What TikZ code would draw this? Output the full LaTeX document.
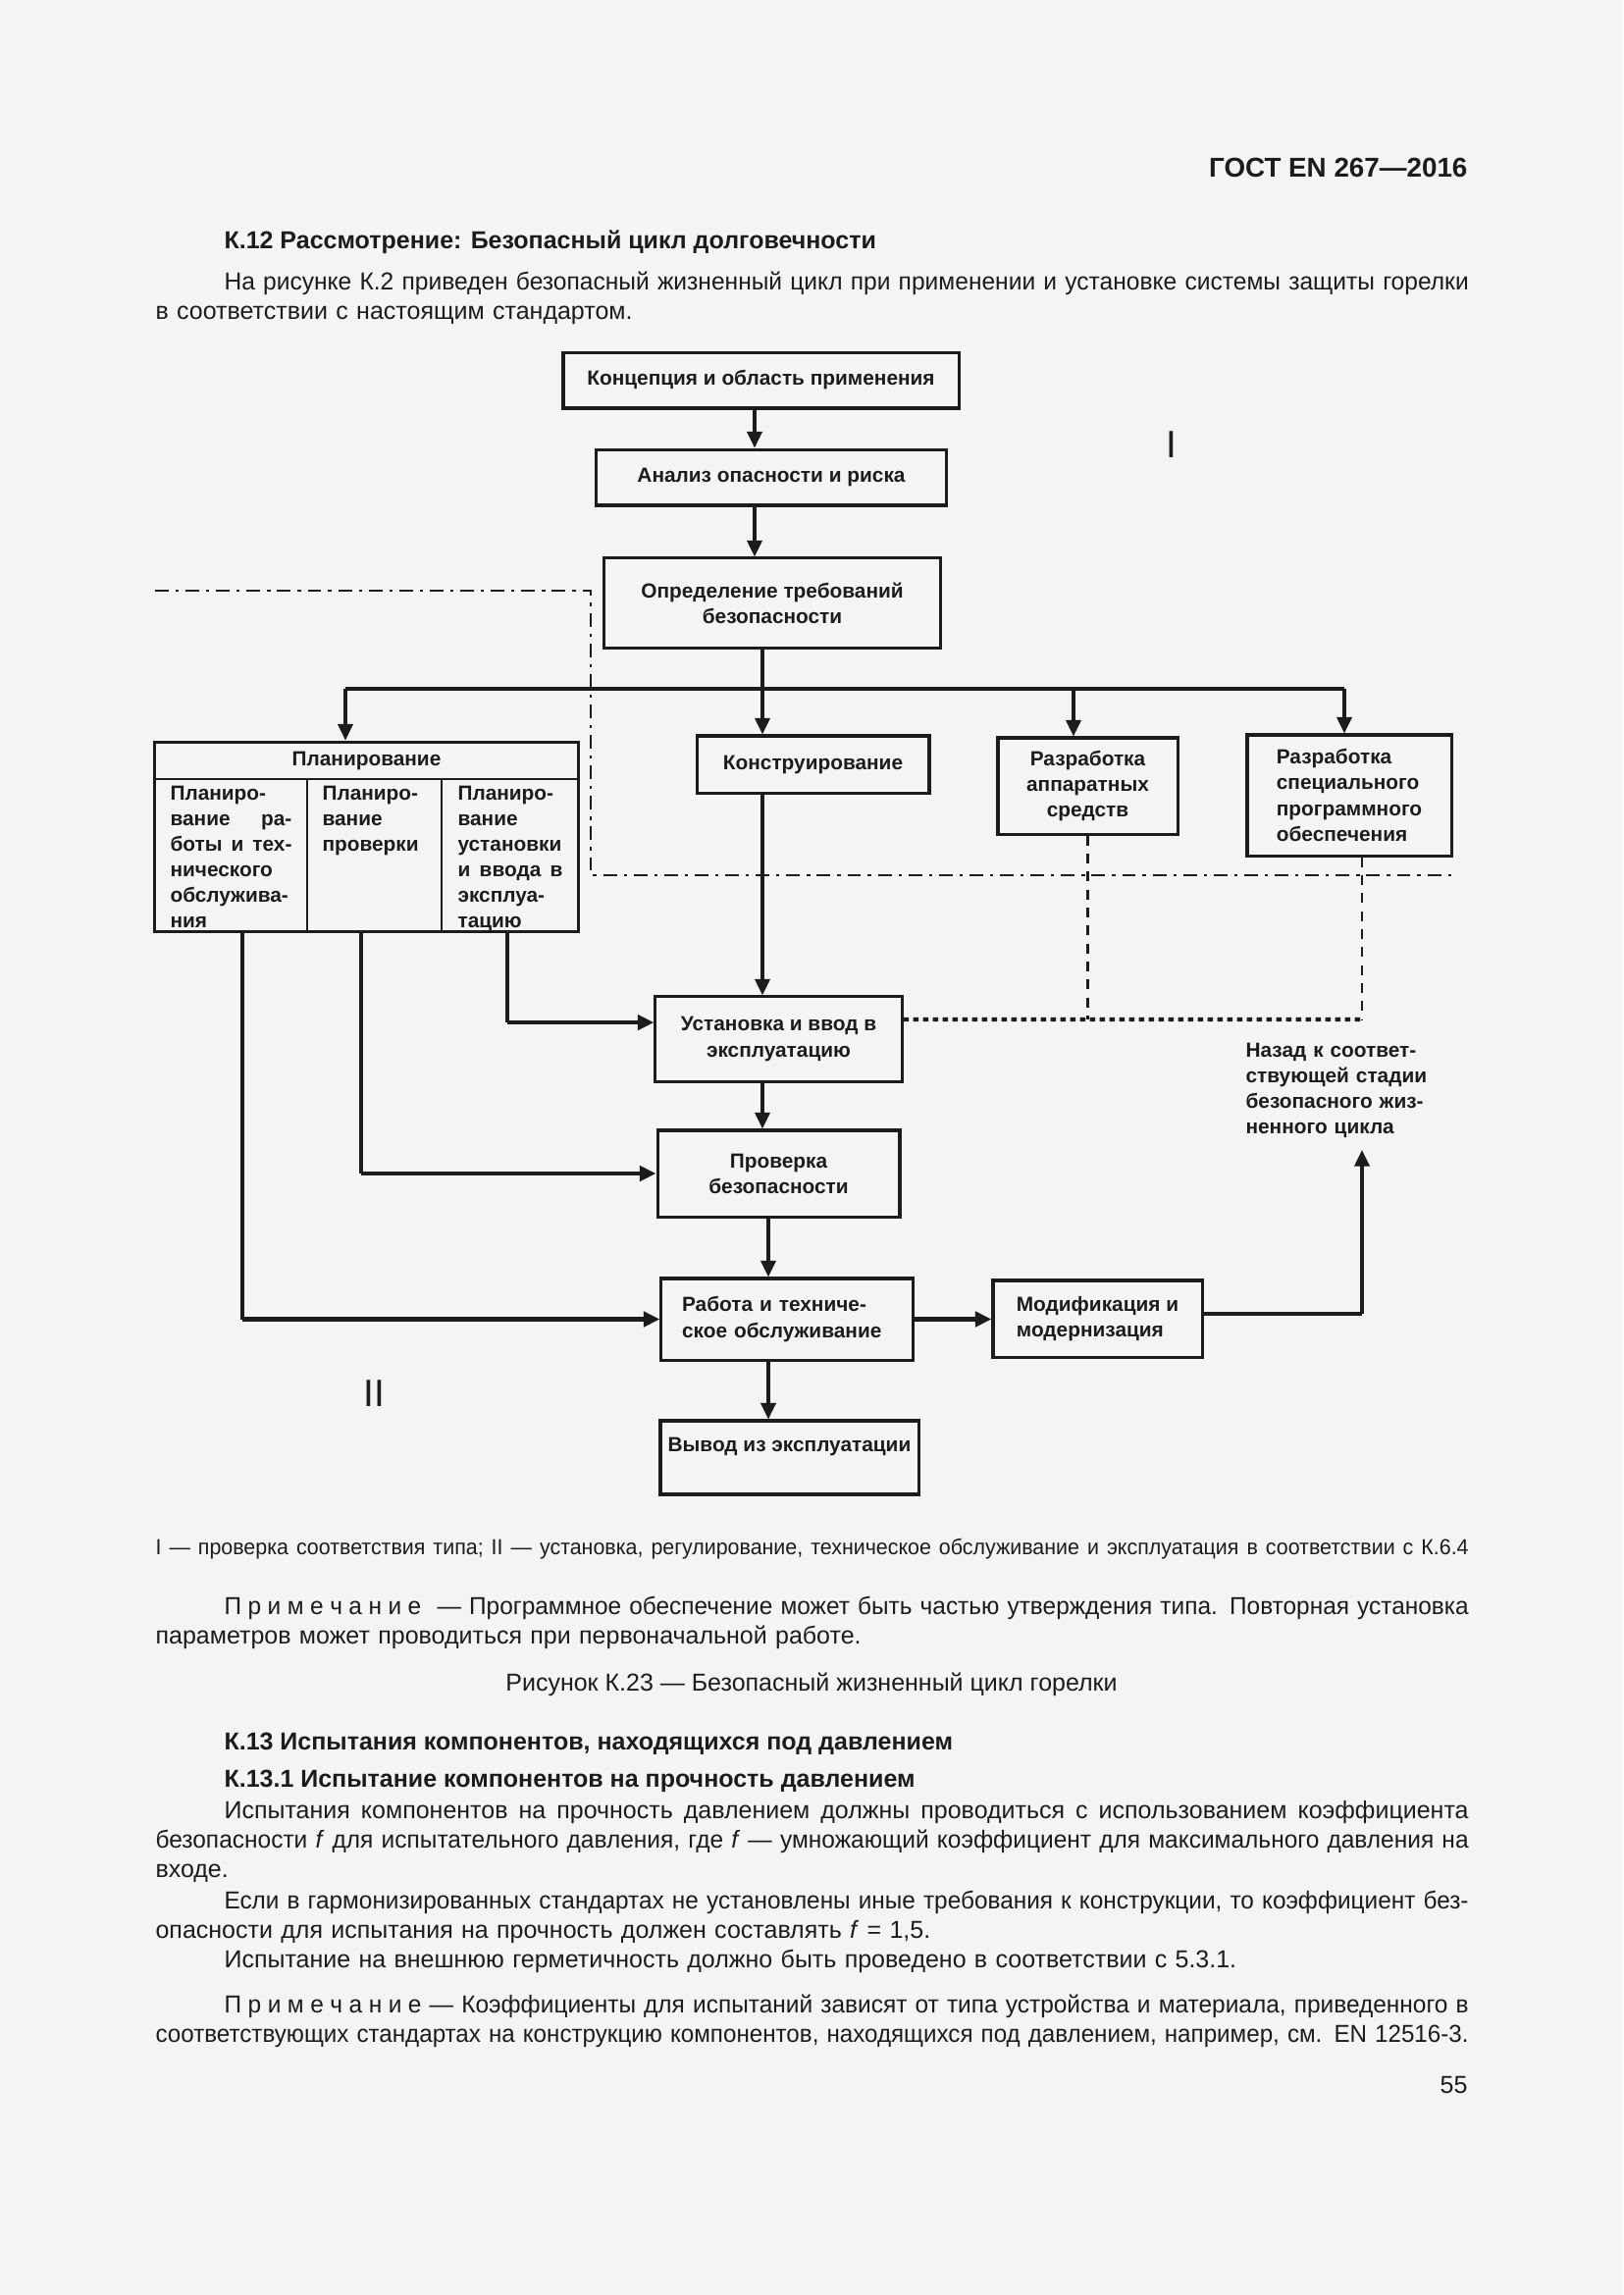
\documentclass[tikz,border=0pt]{standalone}
\usepackage{fontspec}
\usepackage{graphicx}
\setmainfont{Liberation Sans}
\usetikzlibrary{arrows.meta}

\definecolor{ink}{HTML}{1C1C1C}
\definecolor{paper}{HTML}{F4F4F4}

\newcommand{\bodyfont}{\fontsize{9}{10.8}\selectfont}
\newcommand{\boxfont}{\fontsize{7.5}{9.4}\selectfont\bfseries}
% justified line: spread to the width, or squeeze when too long
\newcommand{\jbox}[2]{\leavevmode\setbox0=\hbox{#2}\ifdim\wd0>#1\relax\resizebox{#1}{\ht0}{#2}\else\hbox to #1{\spaceskip=0.28em plus 1em\relax #2}\fi}
\newcommand{\jl}[1]{\jbox{\hsize}{#1}}
\newcommand{\jfirst}[1]{\hspace*{25.2pt}\jbox{\dimexpr\hsize-25.2pt\relax}{#1}}
\newcommand{\noteword}{П\kern2.4pt р\kern2.4pt и\kern2.4pt м\kern2.4pt е\kern2.4pt ч\kern2.4pt а\kern2.4pt н\kern2.4pt и\kern2.4pt е}

\tikzset{
  blk/.style={draw=ink, line width=1.1pt, inner sep=0pt, align=center, font=\boxfont, text=ink},
  boxtxt/.style={inner sep=0pt, align=center, font=\boxfont, text=ink},
  coltxt/.style={anchor=base west, inner sep=0pt, align=left, font=\boxfont, text=ink},
  body/.style={anchor=base west, inner sep=0pt, align=left, text width=481.7pt, font=\bodyfont, text=ink},
  head/.style={anchor=base west, inner sep=0pt, font=\bodyfont\bfseries, text=ink},
  link/.style={draw=ink, line width=1.1pt},
  arr/.style={link, -{Triangle[length=6pt,width=5.5pt]}},
  heavy/.style={line width=1.7pt},
  thinrule/.style={draw=ink, line width=0.8pt},
  dashdot/.style={draw=ink, line width=1pt, dash pattern=on 5pt off 2.5pt on 1.2pt off 2.5pt},
  dsh/.style={draw=ink, line width=0.8pt, dash pattern=on 3.6pt off 3pt},
  dots/.style={draw=ink, line width=1.6pt, dash pattern=on 2pt off 1.6pt},
}

\begin{document}
\begin{tikzpicture}[x=0.36pt, y=-0.36pt]

\useasboundingbox[fill=paper] (0,0) rectangle (1654,2339);

% page head and text above the figure
\node[anchor=base east, inner sep=0pt, font=\fontsize{10}{12}\selectfont\bfseries, text=ink] (gost) at (1496,180) {ГОСТ EN 267—2016};
\node[head] (k12) at (228,253) {К.12 Рассмотрение: Безопасный цикл долговечности};
\node[body] (intro) at (158,295) {\jfirst{На рисунке К.2 приведен безопасный жизненный цикл при применении и установке системы защиты горелки}\\
в соответствии с настоящим стандартом.};

% boxes of the life cycle
\node[blk, minimum width=145.1pt, minimum height=20.5pt] (konc) at (775.5,387.5) {Концепция и область применения};
\node[blk, minimum width=128.2pt, minimum height=20.5pt] (anal) at (786,486.5) {Анализ опасности и риска};
\node[blk, minimum width=123.8pt, minimum height=32.8pt] (opr) at (787,614.5) {Определение требований\\безопасности};

\node[blk, minimum width=155.2pt, minimum height=69.8pt] (plan) at (373.5,853) {};
\node[blk, minimum width=85.3pt, minimum height=20.9pt] (kons) at (828.5,779) {Конструирование};
\node[blk, minimum width=65.9pt, minimum height=35.3pt] (app) at (1108.5,801) {Разработка\\аппаратных\\средств};
\node[blk, minimum width=74.9pt, minimum height=44.3pt, align=left] (prog) at (1375,810.5) {Разработка\\специального\\программного\\обеспечения};

\node[blk, minimum width=90.4pt, minimum height=31pt] (ust) at (793.5,1059) {Установка и ввод в\\эксплуатацию};
\node[blk, minimum width=88.9pt, minimum height=31.7pt] (prov) at (793.5,1196) {Проверка\\безопасности};
\node[blk, minimum width=92.2pt, minimum height=29.9pt, align=left, text width=77pt] (rab) at (802,1344.5) {Работа и техниче-\\ское обслуживание};
\node[blk, minimum width=76.7pt, minimum height=28.1pt, align=left] (mod) at (1118.5,1344) {Модификация и\\модернизация};
\node[blk, minimum width=94.7pt, minimum height=27pt, text height=7pt, text depth=11pt] (vyv) at (804.5,1485.5) {Вывод из эксплуатации};

% planning box: head and three columns
\node[boxtxt] (plh) at (373.5,775) {Планирование};
\draw[thinrule] (plan.west |- 0,794) -- (plan.east |- 0,794);
\draw[thinrule] (313,794) -- (plan.south -| 313,0);
\draw[thinrule] (450,794) -- (plan.south -| 450,0);
\node[coltxt, text width=44.6pt] (pl1) at (173,815) {Планиро-\\\jl{вание ра-}\\\jl{боты и тех-}\\нического\\обслужива-\\ния};
\node[coltxt, text width=40pt] (pl2) at (328,815) {Планиро-\\вание\\проверки};
\node[coltxt, text width=38.5pt] (pl3) at (466,815) {Планиро-\\вание\\установки\\\jl{и ввода в}\\эксплуа-\\тацию};

\node[coltxt, text width=85pt] (nazad) at (1269,1077) {Назад к соответ-\\ствующей стадии\\безопасного жиз-\\ненного цикла};

\node[inner sep=0pt, font=\fontsize{14}{16}\selectfont, text=ink] (lvl1) at (1194,453) {I};
\node[inner sep=0pt, font=\fontsize{14}{16}\selectfont, text=ink] (lvl2) at (381,1420) {II};

% connection points
\coordinate (ax1) at (769,0);
\coordinate (ax2) at (783,0);
\coordinate (bus c) at (777,702);
\coordinate (bus w) at (352,702);
\coordinate (bus h) at (1094,702);
\coordinate (bus e) at (1370,702);
\coordinate (col1) at (247,0);
\coordinate (col2) at (368,0);
\coordinate (col3) at (517,0);
\coordinate (ust in) at ([yshift=6.1pt]ust.west);
\coordinate (mod out) at ([yshift=1.8pt]mod.east);
\coordinate (ret) at (1388,1039);
\coordinate (back) at (1388,1172);

% main flow
\draw[arr] (konc.south -| ax1) -- (anal.north -| ax1);
\draw[arr] (anal.south -| ax1) -- (opr.north -| ax1);
\draw[link] (opr.south -| bus c) -- (bus c);
\draw[link] (bus w) -- (bus e);
\draw[arr] (bus w) -- (bus w |- plan.north);
\draw[arr] (bus c) -- (bus c |- kons.north);
\draw[arr] (bus h) -- (bus h |- app.north);
\draw[arr] (bus e) -- (bus e |- prog.north);
\draw[arr] (kons.south -| bus c) -- (ust.north -| bus c);
\draw[arr] (ust.south -| bus c) -- (prov.north -| bus c);
\draw[arr] (prov.south -| ax2) -- (rab.north -| ax2);
\draw[arr] (rab.south -| ax2) -- (vyv.north -| ax2);
\draw[arr, heavy] (rab.east) -- (rab.east -| mod.west);
\draw[link, heavy] (mod out) -- (mod out -| back);
\draw[arr] (mod out -| back) -- (back);

% from the planning columns
\draw[link] (plan.south -| col3) -- (col3 |- ust in);
\draw[arr, heavy] (col3 |- ust in) -- (ust in);
\draw[link] (plan.south -| col2) -- (col2 |- prov.west);
\draw[arr, heavy] (col2 |- prov.west) -- (prov.west);
\draw[link] (plan.south -| col1) -- (col1 |- rab.west);
\draw[arr, heavy] (col1 |- rab.west) -- (rab.west);

% return lines
\draw[dots] ([yshift=7.2pt]ust.east) -- (ret);
\draw[dsh] (app.south) -- (app.south |- ret);
\draw[dsh] (prog.south -| ret) -- (ret);

% boundary of part I
\coordinate (dd1) at (158,602);
\coordinate (dd2) at (602,602);
\coordinate (dd3) at (602,892);
\coordinate (dd4) at (1481,892);
\draw[dashdot] (dd1) -- (dd2) -- (dd3) -- (dd4);

% text below the figure
\node[body] (legend) at (158,1584) {\fontsize{8}{9.6}\selectfont\jl{I — проверка соответствия типа; II — установка, регулирование, техническое обслуживание и эксплуатация в соответствии с К.6.4}};
\node[body] (note1) at (158,1645) {\jfirst{\noteword\ \ — Программное обеспечение может быть частью утверждения типа. Повторная установка}\\
параметров может проводиться при первоначальной работе.};
\node[anchor=base, inner sep=0pt, font=\bodyfont, text=ink] (caption) at (827,1723) {Рисунок К.23 — Безопасный жизненный цикл горелки};

\node[head] (k13) at (228,1783) {К.13 Испытания компонентов, находящихся под давлением};
\node[head] (k131) at (228,1821) {К.13.1 Испытание компонентов на прочность давлением};
\node[body] (par1) at (158,1853) {\jfirst{Испытания компонентов на прочность давлением должны проводиться с использованием коэффициента}\\
\jl{безопасности \textit{f} для испытательного давления, где \textit{f} — умножающий коэффициент для максимального давления на}\\
входе.};
\node[body] (par2) at (158,1945) {\jfirst{Если в гармонизированных стандартах не установлены иные требования к конструкции, то коэффициент без-}\\
опасности для испытания на прочность должен составлять \textit{f} = 1,5.};
\node[body] (par3) at (158,2005) {\hspace*{25.2pt}Испытание на внешнюю герметичность должно быть проведено в соответствии с 5.3.1.};
\node[body] (note2) at (158,2051) {\jfirst{\noteword\ — Коэффициенты для испытаний зависят от типа устройства и материала, приведенного в}\\
\jl{соответствующих стандартах на конструкцию компонентов, находящихся под давлением, например, см. EN 12516-3.}};

\node[anchor=base east, inner sep=0pt, font=\bodyfont, text=ink] (pagenum) at (1496,2133) {55};

\end{tikzpicture}
\end{document}
